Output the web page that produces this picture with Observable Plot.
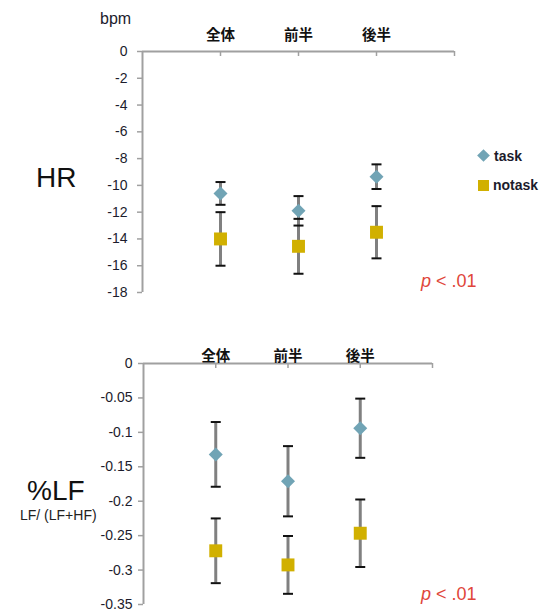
<!DOCTYPE html>
<html>
<head>
<meta charset="utf-8">
<script src="https://cdn.jsdelivr.net/npm/d3@7"></script>
<script src="https://cdn.jsdelivr.net/npm/@observablehq/plot@0.6"></script>
<style>
  html, body { margin: 0; padding: 0; background: #fff; }
  #wrap { position: relative; width: 542px; height: 612px; overflow: hidden; font-family: "Liberation Sans", Arial, sans-serif; background: #fff; }
  .abs { position: absolute; white-space: nowrap; line-height: 1; z-index: 2; }
  .chart { position: absolute; left: 0; z-index: 1; }
  .p { color: #e0463a; font-size: 18px; }
  .p i { font-style: italic; }
  .leg { font-size: 14px; font-weight: bold; color: #1c1c2c; }
</style>
</head>
<body>
<div id="wrap">
  <div id="top" class="chart" style="top:0px;"></div>
  <div id="bot" class="chart" style="top:300px;"></div>
  <div class="abs" style="left:100px;top:11px;font-size:16px;color:#1c1c2c;">bpm</div>
  <div class="abs" style="left:36px;top:164px;font-size:28px;color:#111;">HR</div>
  <div class="abs" style="left:27px;top:477px;font-size:28px;color:#111;">%LF</div>
  <div class="abs" style="left:20px;top:508px;font-size:14px;color:#222;">LF/ (LF+HF)</div>
  <div class="abs leg" style="left:477px;top:149px;"><span style="display:inline-block;width:9px;height:9px;background:#71a4b5;transform:rotate(45deg);margin:0 6px 1px 2px;"></span>task</div>
  <div class="abs leg" style="left:477px;top:178px;"><span style="display:inline-block;width:11px;height:11px;background:#d1b000;margin:0 4px 0 1px;vertical-align:-1px;"></span>notask</div>
  <div class="abs p" style="left:421px;top:272px;"><i>p</i> &lt; .01</div>
  <div class="abs p" style="left:421px;top:585px;"><i>p</i> &lt; .01</div>
</div>
<script>
const categories = ["全体", "前半", "後半"];

const hrTaskMean = [-10.6, -11.9, -9.35];
const hrTaskErr = [0.85, 1.1, 0.92];
const hrNotaskMean = [-14.0, -14.55, -13.5];
const hrNotaskErr = [2.0, 2.05, 1.95];
const hrTicks = [0, -2, -4, -6, -8, -10, -12, -14, -16, -18];

const lfTaskMean = [-0.132, -0.171, -0.094];
const lfTaskErr = [0.047, 0.051, 0.043];
const lfNotaskMean = [-0.272, -0.2925, -0.2465];
const lfNotaskErr = [0.047, 0.042, 0.049];
const lfTicks = [0, -0.05, -0.1, -0.15, -0.2, -0.25, -0.3, -0.35];

const taskColor = "#71a4b5";
const notaskColor = "#d1b000";
const axisGray = "#a0a0a0";

function rows(means, errs, series) {
  return categories.map((c, i) => ({
    cat: c, pos: i + 1, series,
    mean: means[i], lo: means[i] - errs[i], hi: means[i] + errs[i]
  }));
}

const capSymbol = {
  draw(context) {
    context.moveTo(-5, 0);
    context.lineTo(5, 0);
  }
};

function chart({height, marginLeft, marginRight, marginTop, marginBottom, ticks, task, notask, yPad, xPad}) {
  const all = [...notask, ...task];
  const yMin = ticks[ticks.length - 1];
  return Plot.plot({
    width: 542,
    height,
    marginLeft, marginRight, marginTop, marginBottom,
    x: {type: "linear", domain: [0, categories.length + 1]},
    y: {domain: [yMin, 0]},
    style: {fontFamily: "Liberation Sans, Arial, sans-serif", fontSize: "14px", color: "#1c1c2c", background: "transparent", overflow: "visible"},
    marks: [
      Plot.ruleY([0], {stroke: axisGray, strokeWidth: 2}),
      Plot.ruleX([0], {stroke: axisGray, strokeWidth: 2}),
      Plot.ruleX([1, 2, 3, 4], {x: d => d, y1: 0, y2: 0, insetBottom: -5, stroke: axisGray, strokeWidth: 1.5}),
      Plot.axisY({ticks, tickFormat: d => String(d), tickSize: 5, tickPadding: yPad, label: null, stroke: axisGray, strokeWidth: 1.5, fill: "#1c1c2c", fontSize: 14, letterSpacing: "1px"}),
      Plot.axisX({anchor: "top", ticks: [1, 2, 3], tickFormat: i => categories[i - 1], tickSize: 0, tickPadding: xPad, label: null, fill: "#111", fontFamily: "Noto Sans CJK JP", fontSize: 14.5, fontWeight: "bold"}),
      Plot.ruleX(all, {x: "pos", y1: "lo", y2: "hi", stroke: "#808080", strokeWidth: 3}),
      Plot.dot(all, {x: "pos", y: "lo", symbol: capSymbol, fill: "none", stroke: "#111", strokeWidth: 2}),
      Plot.dot(all, {x: "pos", y: "hi", symbol: capSymbol, fill: "none", stroke: "#111", strokeWidth: 2}),
      Plot.dot(task, {x: "pos", y: "mean", symbol: "diamond2", r: 6.3, fill: taskColor, stroke: "none"}),
      Plot.dot(notask, {x: "pos", y: "mean", symbol: "square", r: 7.3, fill: notaskColor, stroke: "none"})
    ]
  });
}

document.getElementById("top").append(chart({
  height: 300, marginLeft: 142, marginRight: 88, marginTop: 51, marginBottom: 8,
  ticks: hrTicks,
  task: rows(hrTaskMean, hrTaskErr, "task"),
  notask: rows(hrNotaskMean, hrNotaskErr, "notask"),
  yPad: 10, xPad: 12
}));

document.getElementById("bot").append(chart({
  height: 312, marginLeft: 143, marginRight: 110, marginTop: 63, marginBottom: 8,
  ticks: lfTicks,
  task: rows(lfTaskMean, lfTaskErr, "task"),
  notask: rows(lfNotaskMean, lfNotaskErr, "notask"),
  yPad: 6, xPad: 3
}));
</script>
</body>
</html>
